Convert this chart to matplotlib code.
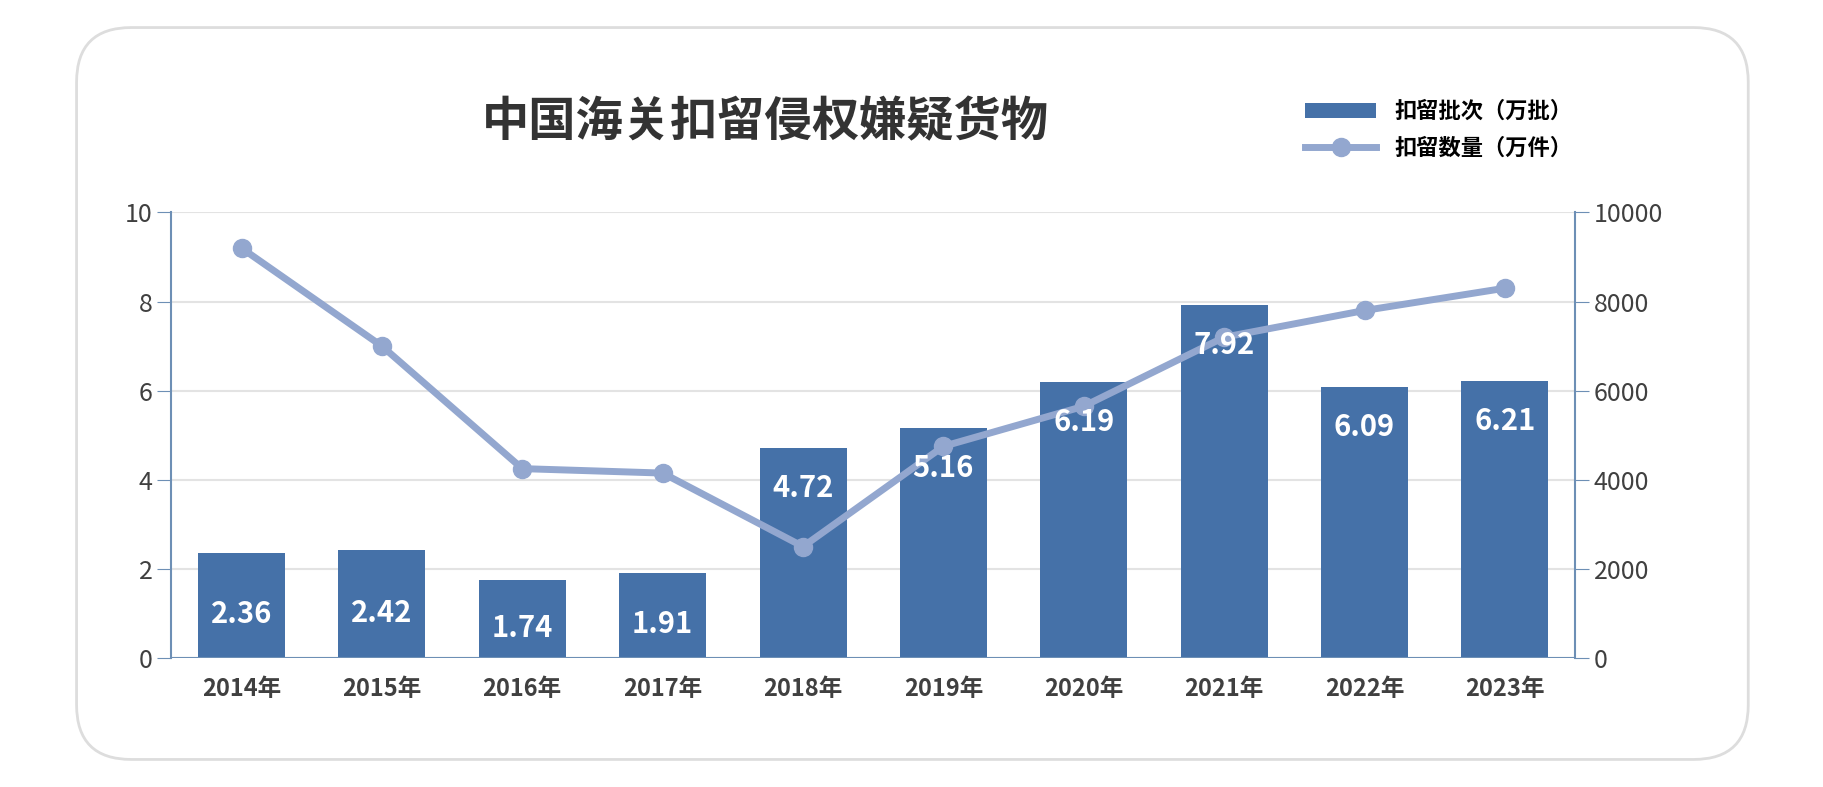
import matplotlib.pyplot as plt
from matplotlib import font_manager
from matplotlib.patches import FancyBboxPatch

# pick whatever CJK family is actually registered
cjk = None
for f in font_manager.findSystemFonts():
    if "NotoSansCJK" in f.replace(" ", "") or "NotoSansSC" in f:
        try:
            font_manager.fontManager.addfont(f)
            cjk = font_manager.FontProperties(fname=f).get_name()
            if "Bold" in f:
                break
        except Exception:
            pass
plt.rcParams["font.family"] = [n for n in [cjk, "Noto Sans CJK SC", "Noto Sans CJK JP", "DejaVu Sans"] if n]

years = ["2014年", "2015年", "2016年", "2017年", "2018年", "2019年", "2020年", "2021年", "2022年", "2023年"]
batches = [2.36, 2.42, 1.74, 1.91, 4.72, 5.16, 6.19, 7.92, 6.09, 6.21]
pieces = [9200, 7000, 4250, 4150, 2500, 4750, 5650, 7200, 7800, 8300]

bar_color = "#4571a8"
line_color = "#93a7cf"
text_color = "#404040"

fig = plt.figure(figsize=(18.23, 7.87), dpi=100)
card = FancyBboxPatch((0.042, 0.035), 0.917, 0.93, boxstyle="round,pad=0,rounding_size=0.03",
                      transform=fig.transFigure, facecolor="white", edgecolor="#dddddd", lw=2,
                      mutation_aspect=1823 / 787, zorder=-10)
fig.patches.append(card)

ax = fig.add_axes([0.094, 0.164, 0.770, 0.566])
ax.set_facecolor("none")
x = range(len(years))
bars = ax.bar(x, batches, width=0.62, color=bar_color, label="扣留批次（万批）", zorder=2)
ax.set_ylim(0, 10)
ax.set_xlim(-0.5, len(years) - 0.5)
ax.set_yticks(range(0, 11, 2))
ax.grid(axis="y", color="#e3e3e3", lw=1.5, zorder=0)
ax.set_xticks(list(x))
ax.set_xticklabels(years, fontsize=17, fontweight="bold", color=text_color)
ax.tick_params(axis="y", labelsize=18, colors=text_color, length=10, color="#6d8fb5", direction="out")
ax.tick_params(axis="x", length=0, pad=14)
for s in ["top", "right", "bottom"]:
    ax.spines[s].set_visible(False)
ax.spines["left"].set_color("#6d8fb5")
ax.spines["left"].set_linewidth(1.5)
ax.axhline(0, color="#6d8fb5", lw=1.5, zorder=3)

ax2 = ax.twinx()
ax2.set_facecolor("none")
ln, = ax2.plot(x, pieces, color=line_color, lw=5, marker="o", markersize=13,
               label="扣留数量（万件）", zorder=4)
ax2.set_ylim(0, 10000)
ax2.set_yticks(range(0, 10001, 2000))
ax2.tick_params(axis="y", labelsize=18, colors=text_color, length=10, color="#6d8fb5")
for s in ["top", "left", "bottom"]:
    ax2.spines[s].set_visible(False)
ax2.spines["right"].set_color("#6d8fb5")
ax2.spines["right"].set_linewidth(1.5)

for i, v in enumerate(batches):
    yy = v - 0.9 if v > 3 else v / 2 - 0.2
    ax2.text(i, yy * 1000, f"{v:.2f}", ha="center", va="center", color="white",
             fontsize=21, fontweight="bold", zorder=5)

fig.text(0.42, 0.845, "中国海关扣留侵权嫌疑货物", ha="center", va="center",
         fontsize=34, fontweight="bold", color="#333333")
fig.legend(handles=[bars, ln], loc="center left", bbox_to_anchor=(0.705, 0.835),
           frameon=False, handlelength=3.2, labelspacing=0.6,
           prop={"weight": "bold", "size": 16})

fig.savefig("out.png", dpi=100)
